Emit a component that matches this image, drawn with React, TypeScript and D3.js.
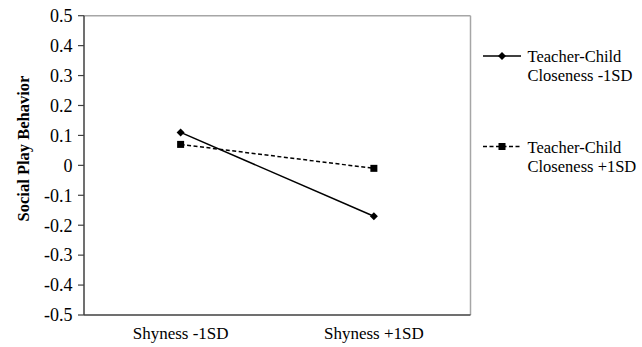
import React from "react";
import * as d3 from "d3";

const categories = ["Shyness -1SD", "Shyness +1SD"];
const seriesNames = ["Teacher-Child Closeness -1SD", "Teacher-Child Closeness +1SD"];
const closenessLow = [0.11, -0.17];
const closenessHigh = [0.07, -0.01];
const yTicks = [0.5, 0.4, 0.3, 0.2, 0.1, 0, -0.1, -0.2, -0.3, -0.4, -0.5];

const W = 642, H = 347;
const left = 84, right = 470.5, top = 15.7, bottom = 315;
const FONT = '"Liberation Serif", "Times New Roman", Times, serif';
const ts = { fontFamily: FONT };

export default function App() {
  const x = d3.scaleBand().domain(categories).range([left, right]);
  const y = d3.scaleLinear().domain([-0.5, 0.5]).range([bottom, top]);
  const cx = (c: string) => (x(c) as number) + x.bandwidth() / 2;
  const line = d3.line<[string, number]>().x((d) => cx(d[0])).y((d) => y(d[1]));
  const s1 = categories.map((c, i) => [c, closenessLow[i]] as [string, number]);
  const s2 = categories.map((c, i) => [c, closenessHigh[i]] as [string, number]);
  const diamond = (px: number, py: number, r = 4) =>
    `M${px},${py - r}L${px + r},${py}L${px},${py + r}L${px - r},${py}Z`;
  const fmt = (v: number) => (v === 0 ? "0" : String(Math.round(v * 10) / 10));

  const legendLines = [
    ["Teacher-Child", "Closeness -1SD"],
    ["Teacher-Child", "Closeness +1SD"],
  ];
  const legendY = [56, 146.5];

  return (
    <svg width={W} height={H} style={{ position: "absolute", left: 0, top: 0, background: "#fff" }}>
      <rect x={0} y={0} width={W} height={H} fill="#fff" />
      <line x1={left} x2={right} y1={top} y2={top} stroke="#a6a6a6" strokeWidth={1.5} />
      <line x1={right} x2={right} y1={top} y2={bottom} stroke="#a6a6a6" strokeWidth={1.5} />
      <line x1={left} x2={left} y1={top} y2={bottom} stroke="#404040" strokeWidth={1.5} />
      <line x1={left} x2={right} y1={bottom} y2={bottom} stroke="#404040" strokeWidth={1.5} />
      {yTicks.map((t) => (
        <g key={t}>
          <line x1={left - 6} x2={left} y1={y(t)} y2={y(t)} stroke="#404040" strokeWidth={1.2} />
          <text x={72.5} y={y(t)} dy="0.35em" textAnchor="end" fontSize={18} fill="#000" style={ts}>
            {fmt(t)}
          </text>
        </g>
      ))}
      {categories.map((c) => (
        <text key={c} x={cx(c)} y={339} textAnchor="middle" fontSize={17} fill="#000" style={ts}>
          {c}
        </text>
      ))}
      <text
        transform={`translate(29,${148.5}) rotate(-90)`}
        textAnchor="middle"
        fontSize={16.5}
        fontWeight="bold"
        fill="#000"
        style={ts}
      >
        Social Play Behavior
      </text>
      <path d={line(s1) || ""} fill="none" stroke="#000" strokeWidth={1.5} />
      <path d={line(s2) || ""} fill="none" stroke="#000" strokeWidth={1.5} strokeDasharray="4,2.5" />
      {s1.map((d) => (
        <path key={d[0]} d={diamond(cx(d[0]), y(d[1]))} fill="#000" />
      ))}
      {s2.map((d) => (
        <rect key={d[0]} x={cx(d[0]) - 3.5} y={y(d[1]) - 3.5} width={7} height={7} fill="#000" />
      ))}
      {seriesNames.map((n, i) => (
        <g key={n}>
          <line
            x1={483}
            x2={521}
            y1={legendY[i]}
            y2={legendY[i]}
            stroke="#000"
            strokeWidth={1.5}
            strokeDasharray={i === 1 ? "4,2.5" : undefined}
          />
          {i === 0 ? (
            <path d={diamond(502, legendY[i])} fill="#000" />
          ) : (
            <rect x={498.5} y={legendY[i] - 3.5} width={7} height={7} fill="#000" />
          )}
          <text x={527.5} y={legendY[i] + 6} fontSize={16.5} fill="#000" style={ts}>
            {legendLines[i][0]}
          </text>
          <text x={527.5} y={legendY[i] + 25} fontSize={16.5} fill="#000" style={ts}>
            {legendLines[i][1]}
          </text>
        </g>
      ))}
    </svg>
  );
}
